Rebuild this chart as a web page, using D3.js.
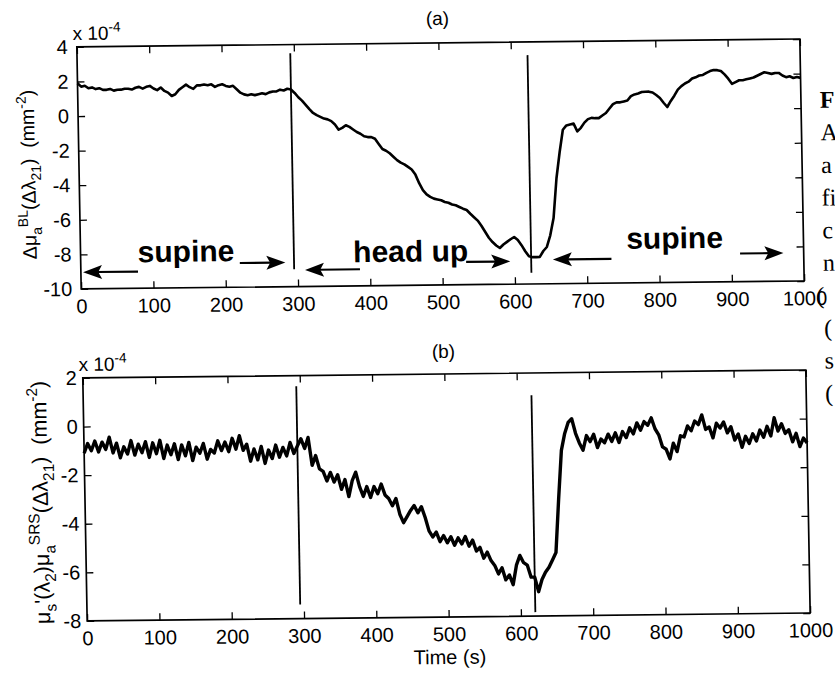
<!DOCTYPE html>
<html>
<head>
<meta charset="utf-8">
<script src="https://cdn.jsdelivr.net/npm/d3@7"></script>
<style>
  body { margin: 0; background: #fff; }
  svg { display: block; }
</style>
</head>
<body>
<div id="chart"></div>
<script>
// samples every 5 s, values in units of 1e-4 mm^-2
var timeStep = 5;

// panel (a): delta mu_a^BL
var deltaMuBL = [
  1.9, 1.7, 1.75, 1.6, 1.65, 1.55, 1.6, 1.5, 1.5, 1.55,
  1.45, 1.5, 1.5, 1.55, 1.55, 1.5, 1.6, 1.65, 1.55, 1.65,
  1.7, 1.55, 1.45, 1.6, 1.4, 1.3, 1.1, 1.2, 1.45, 1.6,
  1.75, 1.6, 1.5, 1.7, 1.7, 1.75, 1.7, 1.75, 1.6, 1.7,
  1.75, 1.65, 1.6, 1.65, 1.45, 1.25, 1.15, 1.1, 1.15, 1.1,
  1.15, 1.2, 1.15, 1.25, 1.3, 1.3, 1.4, 1.35, 1.45, 1.4,
  1.2, 0.95, 0.75, 0.5, 0.25, 0.03, -0.1, -0.2, -0.3, -0.35,
  -0.45, -0.65, -0.95, -0.85, -0.7, -0.8, -0.95, -1.1, -1.2, -1.35,
  -1.4, -1.4, -1.5, -1.8, -2.1, -2.2, -2.35, -2.55, -2.75, -2.9,
  -3.0, -3.15, -3.3, -3.6, -4.1, -4.5, -4.75, -4.9, -5.0, -5.05,
  -5.1, -5.2, -5.25, -5.35, -5.4, -5.5, -5.6, -5.68, -5.9, -6.1,
  -6.3, -6.6, -6.95, -7.3, -7.55, -7.75, -7.9, -7.7, -7.55, -7.4,
  -7.27, -7.45, -7.75, -8.1, -8.4, -8.45, -8.45, -8.44, -8.1, -7.87,
  -7.2, -6.2, -3.9, -2.4, -1.1, -0.85, -0.8, -0.75, -1.2, -1.0,
  -0.7, -0.5, -0.43, -0.45, -0.45, -0.3, -0.16, 0.1, 0.35, 0.45,
  0.45, 0.5, 0.55, 0.8, 0.9, 0.95, 1.03, 1.05, 1.05, 1.0,
  0.85, 0.68, 0.4, 0.15, 0.5, 0.8, 1.15, 1.35, 1.5, 1.6,
  1.78, 1.85, 1.95, 1.98, 2.1, 2.2, 2.26, 2.25, 2.2, 2.0,
  1.75, 1.45, 1.55, 1.65, 1.65, 1.7, 1.75, 1.8, 1.9, 2.0,
  2.1, 2.05, 2.0, 2.05, 2.05, 1.9, 1.8, 1.85, 1.75, 1.8,
  1.75
];

// panel (b): mu_s'(lambda_2) mu_a^SRS
var muSRS = [
  -1.1, -0.7, -1.0, -0.6, -1.05, -0.65, -0.95, -0.45, -1.1, -0.7,
  -1.3, -0.85, -1.15, -0.6, -1.2, -0.75, -1.1, -0.65, -1.3, -0.7,
  -1.15, -0.6, -1.35, -0.8, -1.2, -0.75, -1.4, -0.8, -1.25, -0.7,
  -1.45, -0.9, -1.15, -0.75, -1.4, -1.0, -1.15, -0.65, -1.05, -0.7,
  -1.1, -0.55, -1.0, -0.45, -1.05, -0.8, -1.5, -1.0, -1.45, -0.9,
  -1.6, -1.05, -1.4, -0.85, -1.35, -0.95, -1.3, -0.75, -1.2, -0.9,
  -0.6, -1.0, -0.55, -1.7, -1.3, -1.85, -1.95, -2.35, -2.0, -2.4,
  -2.1, -2.7, -2.3, -3.0, -2.35, -2.0, -2.6, -3.0, -2.6, -3.05,
  -2.6, -2.9, -2.5, -2.95, -3.1, -3.4, -3.1, -3.75, -4.1, -3.85,
  -3.6, -3.4, -3.7, -3.45, -3.9, -4.45, -4.7, -4.5, -4.9, -4.65,
  -4.95, -4.7, -5.05, -4.75, -5.0, -4.7, -5.1, -4.85, -5.3, -5.15,
  -5.6, -5.35, -5.7, -5.9, -6.25, -6.0, -6.5, -6.3, -6.7, -5.9,
  -5.5, -5.8, -5.9, -6.4, -6.4, -7.0, -6.5, -6.2, -6.0, -5.7,
  -5.4, -3.2, -1.2, -0.5, -0.05, 0.1, -0.5, -0.9, -1.2, -0.6,
  -0.85, -0.55, -1.1, -0.75, -0.9, -0.55, -0.85, -0.5, -0.9, -0.45,
  -0.7, -0.3, -0.55, -0.1, -0.4, -0.05, -0.2, 0.1, -0.35, -0.6,
  -1.1, -1.2, -1.6, -0.95, -1.3, -0.65, -0.7, -0.25, -0.45, -0.05,
  -0.2, 0.2, -0.4, -0.3, -0.75, -0.15, -0.35, -0.1, -0.55, -0.3,
  -0.85, -0.6, -1.15, -0.7, -1.0, -0.6, -0.9, -0.45, -0.75, -0.3,
  -0.7, 0.05, -0.5, -0.2, -0.6, -0.45, -0.95, -0.6, -1.15, -0.8,
  -1.0
];

// posture-change artefacts (time, top, bottom)
var spikeTimesA = [295, 623], spikeTopsA = [3.5, 3.24], spikeBottomsA = [-9.0, -9.35];
var spikeTimesB = [295, 620], spikeTopsB = [1.56, 1.08], spikeBottomsB = [-7.42, -7.84];

var xTicks = [0, 100, 200, 300, 400, 500, 600, 700, 800, 900, 1000];
var yTicksA = [-10, -8, -6, -4, -2, 0, 2, 4];
var yTicksB = [-8, -6, -4, -2, 0, 2];
var phaseLabels = ["supine", "head up", "supine"];

// cut-off caption column on the right
var captionBits = ["F", "A", "a", "fi", "c", "n", "(", "(", "s", "("];

var font = "'Liberation Sans', Arial, Helvetica, sans-serif";
var W = 835, H = 676;

var svg = d3.select("#chart").append("svg")
    .attr("width", W)
    .attr("height", H);

// the scan is slightly rotated / sheared
var root = svg.append("g")
    .attr("transform", "translate(440,330) matrix(1,-0.011,0.018,1,0,0) translate(-440,-330)");

var x = d3.scaleLinear().domain([0, 1000]).range([82, 805]);
var yA = d3.scaleLinear().domain([-10, 4]).range([285, 43]);
var yB = d3.scaleLinear().domain([-8, 2]).range([617, 374]);

function richText(sel, parts, size) {
    var small = size * 0.72, shift = 0;
    parts.forEach(function (p) {
        var target = p[1] === "sub" ? size * 0.3 : p[1] === "sup" ? -size * 0.42 : 0;
        sel.append("tspan")
            .attr("dy", target - shift)
            .style("font-size", (p[1] === "n" ? size : small) + "px")
            .text(p[0]);
        shift = target;
    });
}

function drawPanel(y, yTicks, values, spikeT, spikeTop, spikeBot, labelPad, lineWidth) {
    var g = root.append("g");
    var x0 = x.range()[0], x1 = x.range()[1];
    var y0 = y.range()[1], y1 = y.range()[0];

    var bottom = g.append("g")
        .attr("transform", "translate(0," + y1 + ")")
        .call(d3.axisBottom(x).tickValues(xTicks).tickSize(-7).tickPadding(10).tickFormat(function (d) { return String(d); }));
    var top = g.append("g")
        .attr("transform", "translate(0," + y0 + ")")
        .call(d3.axisTop(x).tickValues(xTicks).tickSize(-7).tickFormat(""));
    var left = g.append("g")
        .attr("transform", "translate(" + x0 + ",0)")
        .call(d3.axisLeft(y).tickValues(yTicks).tickSize(-7).tickPadding(labelPad).tickFormat(function (d) { return String(d); }));
    var right = g.append("g")
        .attr("transform", "translate(" + x1 + ",0)")
        .call(d3.axisRight(y).tickValues(yTicks).tickSize(-7).tickFormat(""));

    [bottom, top, left, right].forEach(function (a) {
        a.select(".domain").remove();
        a.selectAll(".tick line").attr("stroke", "#000").attr("stroke-width", 1.3);
        a.selectAll("text")
            .attr("fill", "#000")
            .style("font-family", font)
            .style("font-size", "20px");
    });

    g.append("rect")
        .attr("x", x0).attr("y", y0)
        .attr("width", x1 - x0).attr("height", y1 - y0)
        .attr("fill", "none")
        .attr("stroke", "#000")
        .attr("stroke-width", 1.7);

    var line = d3.line()
        .x(function (d, i) { return x(i * timeStep); })
        .y(function (d) { return y(d); });

    g.append("path")
        .datum(values)
        .attr("d", line)
        .attr("fill", "none")
        .attr("stroke", "#000")
        .attr("stroke-width", lineWidth)
        .attr("stroke-linejoin", "round");

    g.selectAll(".spike")
        .data(spikeT)
        .enter()
        .append("line")
        .attr("class", "spike")
        .attr("x1", function (d) { return x(d); })
        .attr("x2", function (d) { return x(d); })
        .attr("y1", function (d, i) { return y(spikeTop[i]); })
        .attr("y2", function (d, i) { return y(spikeBot[i]); })
        .attr("stroke", "#000")
        .attr("stroke-width", 1.8);

    // "x 10^-4" multiplier
    var mult = g.append("text")
        .attr("x", x0 - 4)
        .attr("y", y0 - 7)
        .style("font-family", font)
        .attr("fill", "#000");
    richText(mult, [["x 10", "n"], ["-4", "sup"]], 19);

    return g;
}

var gA = drawPanel(yA, yTicksA, deltaMuBL, spikeTimesA, spikeTopsA, spikeBottomsA, 9, 2.6);
var gB = drawPanel(yB, yTicksB, muSRS, spikeTimesB, spikeTopsB, spikeBottomsB, 6, 3.4);

// panel titles
gA.append("text").attr("x", 443).attr("y", 25).attr("text-anchor", "middle")
    .style("font-family", font).style("font-size", "19px").text("(a)");
gB.append("text").attr("x", 443).attr("y", 358).attr("text-anchor", "middle")
    .style("font-family", font).style("font-size", "19px").text("(b)");

gB.append("text").attr("x", 444).attr("y", 664).attr("text-anchor", "middle")
    .style("font-family", font).style("font-size", "20px").text("Time (s)");

// y labels
var labA = gA.append("text")
    .attr("transform", "translate(38,170) rotate(-90)")
    .attr("text-anchor", "middle")
    .style("font-family", font);
richText(labA, [["\u0394\u03bc", "n"], ["a", "sub"], ["BL", "sup"], ["(\u0394\u03bb", "n"], ["21", "sub"],
    [")", "n"], ["\u00a0\u00a0(mm", "n"], ["-2", "sup"], [")", "n"]], 19.5);

var labB = gB.append("text")
    .attr("transform", "translate(45,498) rotate(-90)")
    .attr("text-anchor", "middle")
    .style("font-family", font);
richText(labB, [["\u03bc", "n"], ["s", "sub"], ["'(\u03bb", "n"], ["2", "sub"], [")\u03bc", "n"], ["a", "sub"],
    ["SRS", "sup"], ["(\u0394\u03bb", "n"], ["21", "sub"], [")", "n"], ["\u00a0\u00a0(mm", "n"], ["-2", "sup"], [")", "n"]], 21.5);

// phase annotations in panel (a), positions in data units (s, 1e-4 mm^-2)
var arrowsA = [
    { from: [79, -9.03], to: [3, -9.03] },
    { from: [220, -8.6], to: [283, -8.6] },
    { from: [386, -9.04], to: [310, -9.04] },
    { from: [533, -8.68], to: [594, -8.68] },
    { from: [734, -8.6], to: [653, -8.6] },
    { from: [912, -8.37], to: [972, -8.37] }
];
var labelSpots = [[79, -8.49], [377, -8.63], [755, -8.03]];

arrowsA.forEach(function (a) {
    var xa = x(a.from[0]), ya = yA(a.from[1]);
    var xb = x(a.to[0]), yb = yA(a.to[1]);
    var dir = xb > xa ? 1 : -1, len = 19, half = 7;
    gA.append("line")
        .attr("x1", xa).attr("y1", ya)
        .attr("x2", xb - dir * len * 0.7).attr("y2", yb)
        .attr("stroke", "#000").attr("stroke-width", 2.2);
    gA.append("path")
        .attr("d", "M" + xb + "," + yb +
            "L" + (xb - dir * len) + "," + (yb - half) +
            "L" + (xb - dir * len * 0.8) + "," + yb +
            "L" + (xb - dir * len) + "," + (yb + half) + "Z")
        .attr("fill", "#000");
});

gA.selectAll(".phase")
    .data(phaseLabels)
    .enter()
    .append("text")
    .attr("class", "phase")
    .attr("x", function (d, i) { return x(labelSpots[i][0]); })
    .attr("y", function (d, i) { return yA(labelSpots[i][1]); })
    .style("font-family", font)
    .style("font-size", "30px")
    .style("font-weight", "bold")
    .text(function (d) { return d; });

// caption fragments
root.selectAll(".cap")
    .data(captionBits)
    .enter()
    .append("text")
    .attr("class", "cap")
    .attr("x", function (d, i) { return i === 6 ? 817 : 824; })
    .attr("y", function (d, i) { return 112 + i * 32.6; })
    .style("font-family", "'Liberation Serif', 'Times New Roman', serif")
    .style("font-size", "24px")
    .style("font-weight", function (d, i) { return i === 0 ? "bold" : "normal"; })
    .text(function (d) { return d; });
</script>
</body>
</html>
